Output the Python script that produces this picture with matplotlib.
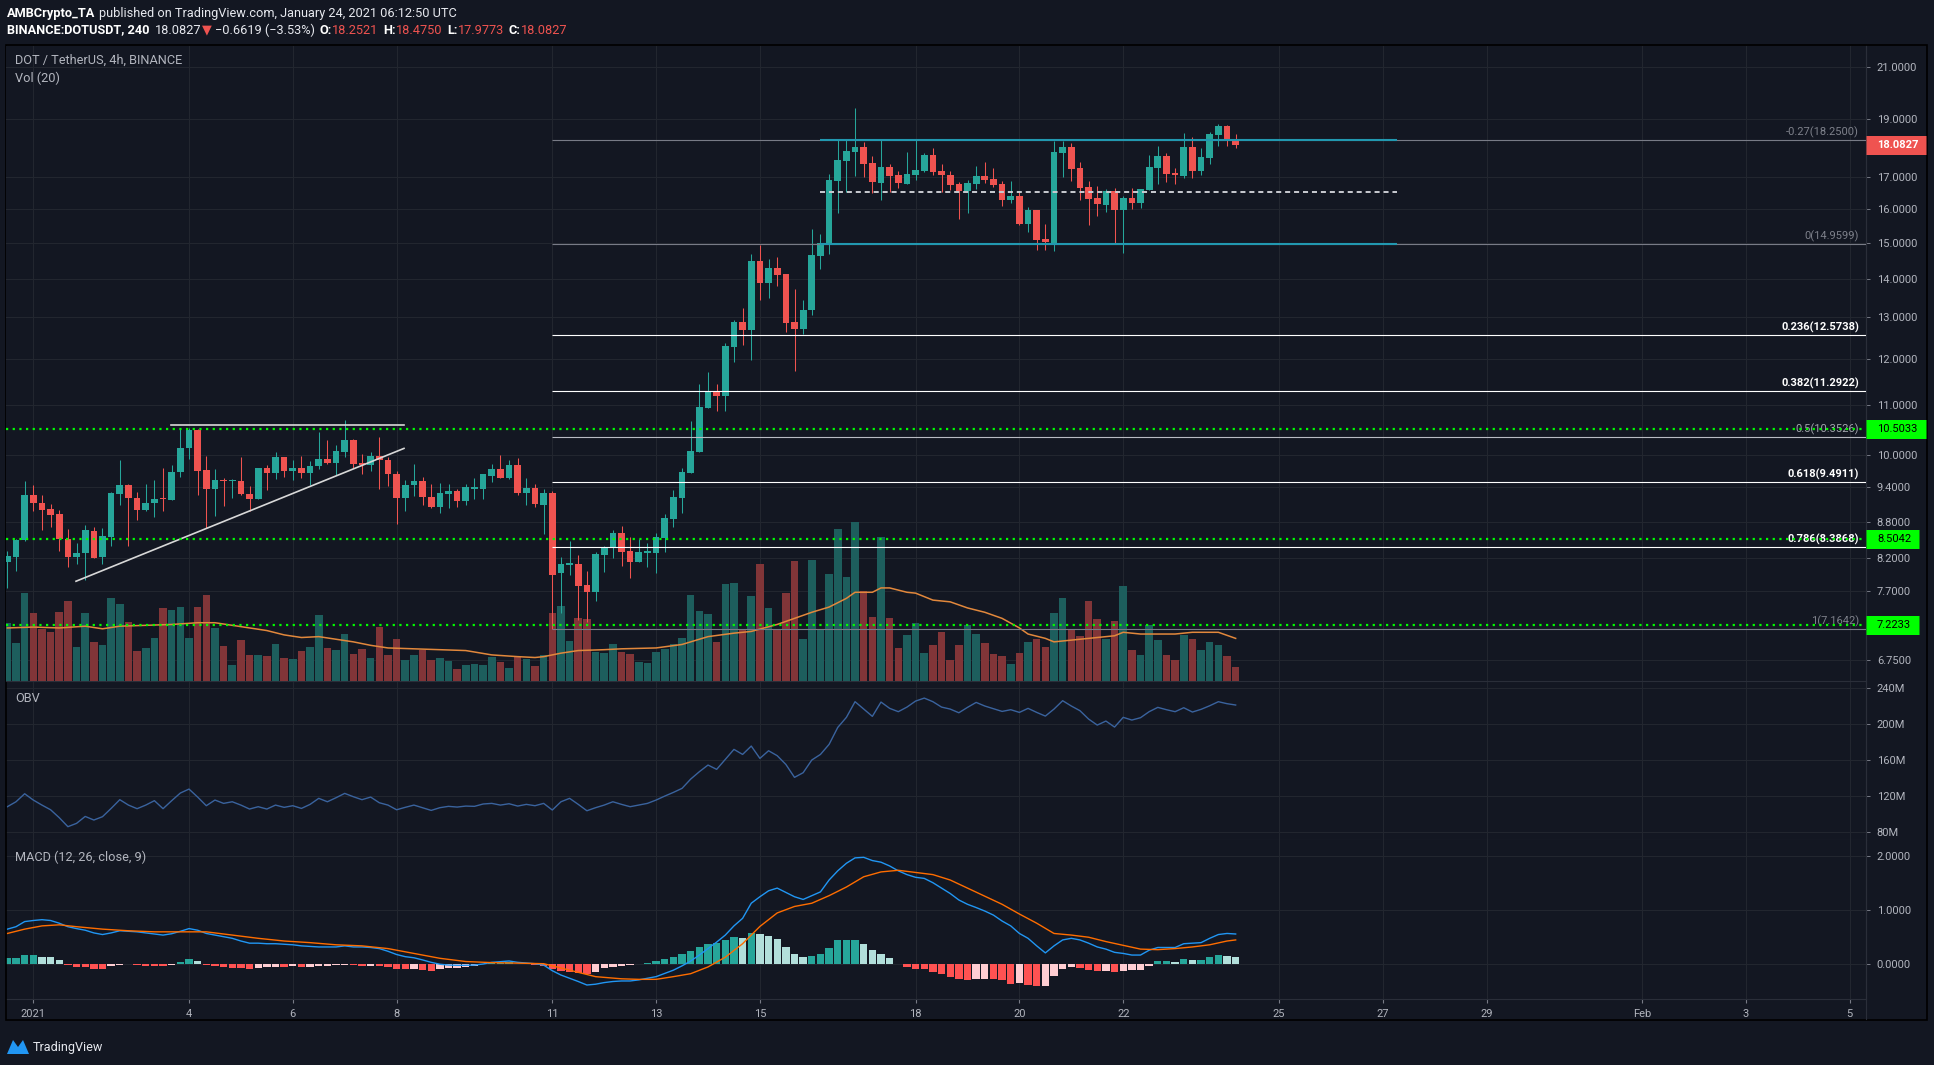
import matplotlib
matplotlib.use("Agg")
import matplotlib.pyplot as plt
import matplotlib.dates as mdates
import matplotlib.transforms as mtransforms
from matplotlib.ticker import FixedLocator, FixedFormatter, NullLocator
from matplotlib.lines import Line2D
from matplotlib.patches import Rectangle, Polygon
import numpy as np
import pandas as pd

plt.rcParams['font.family'] = ['Roboto', 'DejaVu Sans']

# DOT/USDT 4h candles, first bar 2020-12-31 12:00 UTC
start = '2020-12-31 12:00'
opens = [8.15, 8.23, 8.49, 9.26, 9.11, 9.01, 8.92, 8.51, 8.23, 8.28,
         8.64, 8.23, 8.55, 9.28, 9.44, 9.20, 9.00, 9.11, 9.19, 9.17,
         9.68, 10.13, 10.48, 9.71, 9.37, 9.53, 9.50, 9.51, 9.28, 9.18,
         9.75, 9.66, 9.96, 9.70, 9.75, 9.66, 9.78, 9.92, 9.85, 10.06,
         10.29, 9.84, 9.81, 9.98, 9.90, 9.64, 9.21, 9.44, 9.51, 9.22,
         9.05, 9.28, 9.33, 9.15, 9.37, 9.37, 9.60, 9.73, 9.56, 9.80,
         9.29, 9.38, 9.08, 9.29, 7.97, 8.10, 8.11, 7.79, 7.69, 8.25,
         8.38, 8.61, 8.32, 8.15, 8.29, 8.29, 8.53, 8.84, 9.21, 9.65,
         10.05, 10.94, 11.27, 11.18, 12.29, 12.89, 12.69, 14.48, 13.89, 14.29,
         14.12, 12.89, 12.72, 13.19, 14.62, 14.96, 16.88, 17.53, 17.84, 18.01,
         17.46, 16.81, 17.33, 17.07, 16.78, 17.07, 17.20, 17.73, 17.20, 17.07,
         16.78, 16.56, 16.78, 17.04, 16.94, 16.78, 16.27, 16.40, 15.54, 15.96,
         15.10, 14.99, 17.80, 18.01, 17.30, 16.68, 16.33, 16.12, 16.56, 15.96,
         16.33, 16.18, 16.59, 17.30, 17.70, 17.14, 17.04, 18.01, 17.20, 17.63,
         18.42, 18.75, 18.2521]
highs = [8.32, 8.51, 9.51, 9.44, 9.26, 9.10, 8.99, 8.67, 8.45, 8.74,
         8.70, 8.69, 9.31, 9.90, 9.46, 9.31, 9.46, 9.53, 9.75, 9.81,
         10.50, 10.53, 10.50, 9.98, 9.73, 9.56, 9.55, 9.96, 9.42, 9.75,
         9.81, 10.05, 9.96, 9.90, 9.98, 9.88, 10.45, 10.29, 10.19, 10.69,
         10.31, 10.01, 10.05, 10.35, 9.96, 9.70, 9.53, 9.82, 9.58, 9.45,
         9.47, 9.45, 9.36, 9.45, 9.56, 9.64, 9.82, 9.99, 9.90, 9.94,
         9.56, 9.45, 9.36, 9.33, 8.22, 8.48, 8.25, 8.00, 8.30, 8.40,
         8.66, 8.72, 8.54, 8.51, 8.45, 8.61, 8.93, 9.35, 9.75, 10.67,
         11.45, 11.71, 11.45, 12.38, 12.94, 13.24, 14.68, 14.93, 14.54, 14.59,
         14.12, 13.73, 13.45, 15.40, 15.25, 17.11, 18.25, 18.25, 19.40, 18.18,
         17.70, 18.25, 17.43, 17.20, 17.84, 18.25, 17.80, 17.97, 17.43, 17.20,
         16.84, 16.91, 17.36, 17.50, 17.30, 16.88, 16.88, 16.56, 16.06, 15.96,
         15.54, 18.22, 18.22, 18.15, 17.50, 16.88, 16.71, 16.62, 16.65, 16.40,
         16.65, 16.62, 17.73, 18.04, 17.80, 17.30, 18.50, 18.35, 17.97, 18.53,
         18.82, 18.79, 18.475]
lows = [7.75, 8.00, 8.47, 8.98, 8.66, 8.71, 8.31, 8.06, 8.12, 7.87,
        8.21, 8.12, 8.40, 9.09, 8.40, 8.83, 8.98, 8.88, 8.98, 9.17,
        9.59, 9.92, 9.26, 8.69, 8.90, 9.07, 9.20, 9.26, 8.98, 9.18,
        9.34, 9.55, 9.59, 9.52, 9.57, 9.44, 9.72, 9.83, 9.62, 9.96,
        9.75, 9.64, 9.70, 9.37, 9.41, 8.76, 8.98, 9.24, 9.08, 9.03,
        8.95, 9.03, 9.05, 9.08, 9.19, 9.19, 9.49, 9.56, 9.54, 9.26,
        9.08, 9.05, 8.59, 7.16, 7.39, 7.94, 7.29, 7.26, 7.56, 7.99,
        8.21, 8.08, 7.90, 8.15, 8.07, 7.97, 8.30, 8.71, 8.95, 9.65,
        10.05, 10.93, 10.87, 10.87, 11.94, 12.33, 11.98, 13.44, 13.49, 13.81,
        12.64, 11.73, 12.60, 13.05, 14.26, 14.67, 15.87, 16.52, 17.04, 17.00,
        16.49, 16.27, 16.52, 16.65, 16.78, 16.91, 17.16, 17.07, 16.52, 16.59,
        15.69, 15.87, 16.62, 16.81, 16.68, 16.09, 16.18, 15.51, 15.31, 14.79,
        14.79, 14.76, 17.00, 16.88, 16.27, 15.51, 15.78, 15.90, 14.96, 14.70,
        15.99, 16.02, 16.59, 16.78, 16.84, 16.78, 16.97, 16.97, 17.07, 17.43,
        18.04, 18.04, 17.9773]
closes = [8.24, 8.50, 9.26, 9.11, 9.00, 8.91, 8.51, 8.23, 8.29, 8.66,
          8.21, 8.56, 9.29, 9.44, 9.20, 9.00, 9.12, 9.19, 9.18, 9.68,
          10.13, 10.48, 9.70, 9.37, 9.53, 9.50, 9.51, 9.28, 9.18, 9.75,
          9.66, 9.96, 9.70, 9.75, 9.66, 9.79, 9.92, 9.85, 10.07, 10.29,
          9.83, 9.81, 9.98, 9.89, 9.64, 9.21, 9.44, 9.51, 9.22, 9.05,
          9.29, 9.33, 9.15, 9.40, 9.39, 9.64, 9.73, 9.56, 9.80, 9.29,
          9.38, 9.10, 9.29, 7.94, 8.11, 8.11, 7.78, 7.69, 8.27, 8.38,
          8.61, 8.30, 8.15, 8.30, 8.30, 8.54, 8.86, 9.22, 9.67, 10.07,
          10.95, 11.27, 11.19, 12.31, 12.89, 12.69, 14.48, 13.89, 14.29, 14.10,
          12.86, 12.72, 13.19, 14.65, 14.99, 16.91, 17.57, 17.87, 18.01, 17.43,
          16.84, 17.33, 17.04, 16.81, 17.11, 17.23, 17.73, 17.17, 17.07, 16.74,
          16.56, 16.81, 17.04, 16.91, 16.74, 16.27, 16.40, 15.54, 15.96, 15.08,
          15.02, 17.83, 18.01, 17.26, 16.65, 16.30, 16.15, 16.56, 15.96, 16.33,
          16.18, 16.62, 17.33, 17.70, 17.11, 17.07, 18.01, 17.20, 17.67, 18.46,
          18.75, 18.28, 18.0827]
# volume in millions
volume = [6.7, 4.4, 10.1, 7.8, 6.0, 5.6, 7.9, 9.2, 3.9, 7.8,
          4.5, 4.1, 9.5, 8.9, 6.8, 3.5, 3.8, 4.9, 8.4, 8.2,
          8.5, 4.9, 8.5, 9.9, 6.1, 4.0, 1.8, 4.7, 3.0, 3.0,
          2.9, 4.3, 2.6, 2.5, 3.5, 3.9, 7.6, 3.8, 3.6, 5.4,
          3.1, 3.7, 2.6, 6.2, 3.0, 4.8, 2.4, 3.0, 3.6, 2.4,
          2.6, 2.3, 1.4, 1.8, 2.0, 1.8, 2.8, 2.2, 1.5, 2.8,
          2.5, 1.7, 3.0, 7.8, 8.6, 4.6, 7.2, 7.1, 3.3, 3.2,
          4.3, 3.3, 3.1, 2.2, 2.1, 3.3, 3.7, 4.3, 4.9, 9.9,
          8.1, 7.7, 4.5, 11.2, 11.3, 6.0, 9.8, 13.5, 8.4, 6.0,
          10.1, 13.8, 4.8, 13.9, 6.0, 12.3, 17.5, 12.0, 18.3, 10.4,
          7.4, 16.6, 7.2, 3.8, 5.3, 6.7, 3.2, 4.1, 5.6, 2.4,
          4.1, 6.4, 5.4, 4.4, 3.1, 2.9, 2.0, 3.2, 4.5, 4.8,
          3.9, 7.8, 9.5, 5.9, 5.2, 9.2, 7.1, 4.8, 6.9, 10.9,
          3.6, 3.0, 6.4, 4.7, 3.0, 2.4, 5.3, 4.8, 3.6, 4.5,
          4.1, 2.9, 1.6]
vol_ma_idx = [0, 3, 6, 9, 11, 13, 16, 19, 22, 24, 26, 28, 30, 32, 34, 36, 38, 40, 42, 44,
              47, 50, 53, 56, 59, 61, 62, 64, 66, 69, 71,
              75, 78, 81, 84, 86, 89, 91, 93, 95, 97, 98, 100, 101, 102, 104, 105, 107, 109, 111,
              113, 115, 117, 118, 120, 121, 124, 127, 128, 129, 131, 135, 137, 140, 142]
vol_ma = [6.1, 6.2, 6.1, 6.3, 6.0, 6.3, 6.4, 6.5, 6.7, 6.7, 6.4, 6.1, 5.8, 5.3, 5.0, 5.1, 4.8, 4.5, 4.1, 3.8,
          3.7, 3.6, 3.5, 3.0, 2.8, 2.7, 2.8, 3.2, 3.5, 3.6, 3.7,
          3.8, 4.2, 5.1, 5.5, 5.7, 6.5, 7.2, 7.9, 8.5, 9.5, 10.2, 10.2, 10.7, 10.7, 10.2, 10.1, 9.3, 9.1, 8.4,
          7.9, 7.2, 6.1, 5.4, 4.9, 4.5, 4.8, 5.1, 5.2, 5.6, 5.4, 5.4, 5.6, 5.6, 4.9]
obv = [108.1, 113.6, 122.5, 115.5, 109.9, 104.7, 95.9, 85.9, 89.6, 97.3,
       93.3, 97.0, 106.2, 115.9, 109.9, 105.9, 109.9, 114.8, 105.9, 114.8,
       123.3, 127.7, 118.8, 109.2, 115.5, 111.8, 113.6, 109.9, 105.5, 108.1,
       105.5, 109.9, 107.4, 109.2, 106.2, 110.7, 117.4, 113.6, 118.1, 122.9,
       119.2, 115.9, 118.8, 112.5, 109.9, 104.7, 107.4, 109.9, 107.0, 104.0,
       107.0, 108.5, 107.7, 108.8, 108.5, 111.1, 111.8, 109.9, 111.4, 108.8,
       110.7, 109.2, 111.8, 104.4, 113.6, 117.4, 110.7, 103.6, 107.0, 109.9,
       113.6, 110.7, 108.1, 109.9, 111.8, 115.5, 119.9, 124.0, 128.5, 138.8,
       147.0, 154.4, 149.6, 160.7, 171.8, 166.2, 175.5, 161.8, 170.3, 164.8,
       155.1, 140.7, 145.9, 160.0, 166.2, 177.4, 196.2, 207.4, 224.8, 216.6,
       208.5, 224.4, 217.4, 213.7, 218.8, 225.5, 228.8, 224.8, 218.8, 216.6,
       212.5, 218.5, 224.0, 220.0, 217.0, 214.0, 215.9, 212.9, 217.4, 212.9,
       208.8, 216.6, 225.9, 220.0, 214.8, 205.5, 198.8, 203.3, 196.6, 207.4,
       204.4, 207.0, 213.7, 218.5, 215.9, 213.7, 218.1, 213.3, 216.3, 220.3,
       224.8, 222.6, 221.1]
macd = [0.64, 0.685, 0.78, 0.80, 0.815, 0.80, 0.75, 0.685, 0.65, 0.62,
        0.57, 0.54, 0.57, 0.61, 0.60, 0.59, 0.57, 0.55, 0.53, 0.555,
        0.60, 0.65, 0.62, 0.56, 0.53, 0.50, 0.47, 0.42, 0.38, 0.38,
        0.37, 0.37, 0.36, 0.35, 0.33, 0.32, 0.31, 0.31, 0.31, 0.33,
        0.31, 0.31, 0.30, 0.28, 0.23, 0.17, 0.13, 0.11, 0.07, 0.025,
        -0.01, -0.025, -0.03, -0.03, -0.025, -0.006, 0.025, 0.037, 0.05, 0.025,
        0.012, 0.0, -0.025, -0.13, -0.21, -0.27, -0.33, -0.395, -0.38, -0.35,
        -0.33, -0.32, -0.32, -0.30, -0.27, -0.24, -0.18, -0.12, -0.04, 0.05,
        0.16, 0.28, 0.40, 0.53, 0.70, 0.84, 1.12, 1.24, 1.35, 1.40,
        1.32, 1.24, 1.19, 1.26, 1.33, 1.55, 1.72, 1.86, 1.96, 1.97,
        1.91, 1.88, 1.81, 1.72, 1.65, 1.60, 1.58, 1.50, 1.40, 1.30,
        1.18, 1.10, 1.04, 0.975, 0.90, 0.79, 0.70, 0.56, 0.47, 0.33,
        0.20, 0.33, 0.44, 0.47, 0.44, 0.38, 0.31, 0.27, 0.21, 0.19,
        0.16, 0.16, 0.25, 0.30, 0.30, 0.30, 0.37, 0.38, 0.39, 0.47,
        0.54, 0.56, 0.55]
macd_hist = [0.10, 0.11, 0.16, 0.165, 0.13, 0.12, 0.07, -0.025, -0.055, -0.056,
             -0.09, -0.092, -0.04, -0.025, -0.01, -0.025, -0.035, -0.04, -0.042, -0.025,
             0.04, 0.085, 0.05, -0.025, -0.045, -0.055, -0.075, -0.085, -0.10, -0.085,
             -0.07, -0.055, -0.058, -0.052, -0.056, -0.054, -0.05, -0.045, -0.03, -0.02,
             -0.03, -0.045, -0.044, -0.05, -0.055, -0.10, -0.105, -0.104, -0.11, -0.13,
             -0.10, -0.085, -0.084, -0.07, -0.05, -0.01, 0.012, 0.02, 0.025, -0.01,
             -0.012, -0.025, -0.04, -0.105, -0.13, -0.15, -0.18, -0.19, -0.15, -0.085,
             -0.055, -0.045, -0.025, -0.012, 0.006, 0.05, 0.085, 0.12, 0.18, 0.235,
             0.31, 0.36, 0.38, 0.44, 0.49, 0.475, 0.57, 0.55, 0.51, 0.46,
             0.31, 0.18, 0.12, 0.14, 0.18, 0.29, 0.43, 0.44, 0.445, 0.36,
             0.25, 0.18, 0.105, -0.012, -0.055, -0.09, -0.10, -0.15, -0.19, -0.25,
             -0.28, -0.30, -0.28, -0.275, -0.28, -0.31, -0.37, -0.36, -0.40, -0.42,
             -0.41, -0.23, -0.10, -0.055, -0.075, -0.12, -0.135, -0.13, -0.15, -0.135,
             -0.12, -0.11, -0.045, 0.05, 0.052, 0.03, 0.085, 0.07, 0.075, 0.12,
             0.16, 0.14, 0.12]
signal_k = [1, 3, 5, 7, 9, 12, 15, 18, 21, 24, 27, 30, 33, 36, 39, 42, 45, 48, 51, 54,
            57, 60, 63, 66, 69, 72, 74, 76, 78, 80, 82, 84, 86, 88, 90, 92, 94, 96, 98, 100,
            102, 104, 106, 108, 110, 112, 114, 116, 118, 120, 122, 124, 126, 128, 130, 132, 134, 136, 138, 140,
            142, 143]
signal = [0.56, 0.64, 0.70, 0.72, 0.685, 0.64, 0.61, 0.59, 0.59, 0.59, 0.53, 0.47, 0.42, 0.39, 0.35, 0.33, 0.28, 0.19, 0.10, 0.04,
          0.02, 0.01, 0.0, -0.12, -0.24, -0.28, -0.29, -0.29, -0.24, -0.185, -0.06, 0.12, 0.37, 0.69, 0.94, 1.06, 1.12, 1.26, 1.42, 1.61,
          1.70, 1.73, 1.69, 1.65, 1.55, 1.40, 1.25, 1.10, 0.92, 0.75, 0.56, 0.53, 0.49, 0.41, 0.34, 0.27, 0.26, 0.28, 0.31, 0.35,
          0.42, 0.44]

price_ticks = [21, 19, 17, 16, 15, 14, 13, 12, 11, 10, 9.4, 8.8, 8.2, 7.7, 6.75]
obv_ticks = [80, 120, 160, 200, 240]
macd_ticks = [0, 1, 2]
date_ticks = ['2021-01-01', '2021-01-04', '2021-01-06', '2021-01-08', '2021-01-11', '2021-01-13',
              '2021-01-15', '2021-01-18', '2021-01-20', '2021-01-22', '2021-01-25', '2021-01-27',
              '2021-01-29', '2021-02-01', '2021-02-03', '2021-02-05']
date_labels = ['2021', '4', '6', '8', '11', '13', '15', '18', '20', '22', '25', '27', '29', 'Feb', '3', '5']

fib_labels = ['-0.27(18.2500)', '0(14.9599)', '0.236(12.5738)', '0.382(11.2922)',
              '0.5(10.3526)', '0.618(9.4911)', '0.786(8.3868)', '1(7.1642)']
fib_prices = [18.25, 14.9599, 12.5738, 11.2922, 10.3526, 9.4911, 8.3868, 7.1642]
fib_start = '2021-01-11'
green_levels = [10.5033, 8.5042, 7.2233]
range_top, range_mid, range_bot = 18.25, 16.53, 14.96
range_start, range_end = '2021-01-16 04:00', '2021-01-27 06:30'
tri_top = 10.58
tri_top_x = ['2021-01-03 15:40', '2021-01-08 03:25']
tri_low = [7.85, 10.12]
tri_low_x = ['2021-01-01 19:45', '2021-01-08 03:25']

# ---------------- style
BG = '#131722'
GRID = '#22262f'
SEP = '#2a2e39'
TXT = '#b2b5be'
UP, DN = '#26a69a', '#ef5350'
VUP, VDN = '#1d5e5d', '#813538'
W, H = 1934, 1065


def rect(l, t, r, b):
    return [l / W, 1 - b / H, (r - l) / W, (b - t) / H]


def num(s):
    return mdates.date2num(pd.Timestamp(s).to_pydatetime())


x = mdates.date2num(pd.date_range(start, periods=len(opens), freq='4h').to_pydatetime())
o, h, l, c = map(np.array, (opens, highs, lows, closes))
t0 = num('2021-01-01')
xlim = (t0 - 0.526, t0 + 35.312)

fig = plt.figure(figsize=(W / 100, H / 100), dpi=100, facecolor=BG)
renderer = fig.canvas.get_renderer()

ax_p = fig.add_axes(rect(6, 46, 1866, 681), facecolor=BG, zorder=1)
ax_v = fig.add_axes(rect(6, 46, 1866, 681), sharex=ax_p, facecolor='none', zorder=2)
ax_p.set_yscale('log')
ax_c = fig.add_axes(rect(6, 46, 1866, 681), sharex=ax_p, sharey=ax_p, facecolor='none', zorder=3)
ax_o = fig.add_axes(rect(6, 681, 1866, 840), sharex=ax_p, facecolor=BG)
ax_m = fig.add_axes(rect(6, 840, 1866, 999), sharex=ax_p, facecolor=BG)

for ax in (ax_p, ax_o, ax_m):
    ax.set_axisbelow(True)
    ax.grid(True, color=GRID, lw=0.8)
    for s in ax.spines.values():
        s.set_color(SEP)
        s.set_linewidth(0.8)
    ax.spines['left'].set_visible(False)
    ax.spines['top'].set_visible(False)
    ax.yaxis.tick_right()
    ax.tick_params(axis='y', which='both', labelsize=8, labelcolor=TXT, color='#787b86',
                   length=3, width=0.7, pad=4.8)
    ax.tick_params(axis='x', labelbottom=False, length=0)
ax_v.axis('off')
ax_c.axis('off')

# price scale
ax_p.yaxis.set_major_locator(FixedLocator(price_ticks))
ax_p.yaxis.set_major_formatter(FixedFormatter(['%.4f' % t for t in price_ticks]))
ax_p.yaxis.set_minor_locator(NullLocator())
ax_p.set_ylim(6.487, 21.843)

ax_o.set_yticks(obv_ticks)
ax_o.set_yticklabels(['%dM' % t for t in obv_ticks])
ax_o.set_ylim(71.1, 247.8)

ax_m.set_yticks(macd_ticks)
ax_m.set_yticklabels(['%.4f' % t for t in macd_ticks])
ax_m.set_ylim(-0.654, 2.291)

ax_m.set_xticks([num(d) for d in date_ticks])
ax_m.set_xticklabels(date_labels)
ax_m.tick_params(axis='x', labelbottom=True, length=3, color='#787b86', labelsize=8,
                 labelcolor=TXT, pad=4.5)
ax_p.set_xlim(*xlim)

# volume
ax_v.bar(x, volume, width=0.145, color=np.where(c >= o, VUP, VDN), lw=0)
ax_v.plot(x[vol_ma_idx], vol_ma, color='#e2883c', lw=1.1)
ax_v.set_ylim(0, 73.0)

# candles
col = np.where(c >= o, UP, DN)
ax_c.vlines(x, l, h, colors=col, lw=0.75, zorder=2)
ax_c.bar(x, np.maximum(np.abs(c - o), c * 0.003), bottom=np.minimum(o, c), width=0.129,
         color=col, lw=0, zorder=3)

# drawings
for lv in green_levels:
    ax_c.axhline(lv, color='#00ff00', lw=1.6, linestyle=(0, (1, 2)), zorder=6)

fib_cols = ['#787b86', '#787b86', '#ffffff', '#ffffff', '#b8bbc3', '#ffffff', '#ffffff', '#787b86']
fib_txt = ['#7e818b', '#7e818b', '#ffffff', '#ffffff', '#a3a6ae', '#ffffff', '#ffffff', '#7e818b']
fib_wt = ['normal', 'normal', 'bold', 'bold', 'normal', 'bold', 'bold', 'normal']
blend = mtransforms.blended_transform_factory(ax_c.transAxes, ax_c.transData)
lbl_tr = mtransforms.offset_copy(blend, fig=fig, y=2, units='dots')
for lab, pr, lc, tc, wt in zip(fib_labels, fib_prices, fib_cols, fib_txt, fib_wt):
    ax_c.hlines(pr, num(fib_start), xlim[1], color=lc, lw=0.8, zorder=4)
    ax_c.text((1859 - 6) / 1860, pr, lab, transform=lbl_tr, ha='right', va='bottom',
              fontsize=8, color=tc, fontweight=wt, zorder=5)

teal = '#2298b0'
ax_c.hlines([range_top, range_bot], num(range_start), num(range_end), color=teal, lw=1.5, zorder=5)
ax_c.hlines(range_mid, num(range_start), num(range_end), color='#c9cbd1', lw=1.4,
            linestyle=(0, (2.6, 2.0)), zorder=5)

ax_c.plot([num(s) for s in tri_top_x], [tri_top, tri_top], color='#d8d8d8', lw=1.2, zorder=5)
ax_c.plot([num(s) for s in tri_low_x], tri_low, color='#d8d8d8', lw=1.2, zorder=5)


def price_tag(y, txt, fc, tc, x_end, wt='normal'):
    ax_c.add_line(Line2D([1.0, (x_end - 6) / 1860], [y, y], transform=blend, color=fc,
                         lw=19 * 0.72, solid_capstyle='butt', clip_on=False, zorder=7))
    ax_c.text((1877 - 6) / 1860, y, txt, transform=blend, ha='left', va='center',
              fontsize=8, color=tc, fontweight=wt, clip_on=False, zorder=8)


price_tag(closes[-1], '%.4f' % closes[-1], '#ef5350', '#ffffff', 1926, 'bold')
for lv, xe in zip(green_levels, [1926, 1919, 1919]):
    price_tag(lv, '%.4f' % lv, '#00ff00', '#000000', xe)

# OBV
ax_o.plot(x, obv, color='#3a639e', lw=1.0)

# MACD
hc = []
for i, hv in enumerate(macd_hist):
    pv = macd_hist[i - 1] if i else hv
    if hv >= 0:
        hc.append('#26a69a' if hv >= pv else '#b2dfdb')
    else:
        hc.append('#ff5252' if hv < pv else '#ffcdd2')
ax_m.bar(x, macd_hist, width=0.85 / 6, color=hc, lw=0)
ax_m.plot(x, macd, color='#2196f3', lw=1.0)
ax_m.plot(x[np.array(signal_k) - 1], signal, color='#ff6d00', lw=1.0)


def fit_size(s, target_px, wt='normal'):
    # font size (pt) at which text s is about target_px wide
    t = fig.text(0, 0, s, fontsize=10, fontweight=wt)
    w = t.get_window_extent(renderer).width
    t.remove()
    return 10 * target_px / w


# pane titles
fs_t = fit_size('MACD (12, 26, close, 9)', 131)
fig.text(15 / W, 1 - 60 / H, 'DOT / TetherUS, 4h, BINANCE', color=TXT, fontsize=fs_t, va='center')
fig.text(15 / W, 1 - 78 / H, 'Vol (20)', color=TXT, fontsize=fs_t, va='center')
fig.text(15 / W, 1 - 698 / H, 'OBV', color=TXT, fontsize=fs_t, va='center')
fig.text(15 / W, 1 - 857 / H, 'MACD (12, 26, close, 9)', color=TXT, fontsize=fs_t, va='center')

# frame
fig.add_artist(Rectangle((5.5 / W, 1 - 1019.5 / H), 1921 / W, 975 / H, transform=fig.transFigure,
                         fill=False, ec='#000000', lw=1.2))
fig.add_artist(Line2D([1866 / W, 1866 / W], [1 - 46 / H, 1 - 1019 / H], transform=fig.transFigure,
                      color=SEP, lw=0.8))


# header
def write_parts(xp, yp, parts, size):
    for s, colr, wt, gap in parts:
        t = fig.text(xp / W, 1 - yp / H, s, color=colr, fontsize=size, fontweight=wt,
                     ha='left', va='center')
        xp += t.get_window_extent(renderer).width + gap


WH, RD = '#ffffff', '#ef5350'
line1 = 'AMBCrypto_TA published on TradingView.com, January 24, 2021 06:12:50 UTC'
fs_h = fit_size(line1, 445)
write_parts(7, 13, [('AMBCrypto_TA', WH, 'bold', 4),
                    ('published on TradingView.com, January 24, 2021 06:12:50 UTC', '#e6e8ee', 'normal', 0)], fs_h)
write_parts(7, 30, [('BINANCE:DOTUSDT, 240', WH, 'bold', 5), ('18.0827', '#e6e8ee', 'normal', 1),
                    ('\u25bc', RD, 'normal', 3), ('\u22120.6619 (\u22123.53%)', '#e6e8ee', 'normal', 5),
                    ('O:', WH, 'bold', 0), ('18.2521', RD, 'normal', 5),
                    ('H:', WH, 'bold', 0), ('18.4750', RD, 'normal', 5),
                    ('L:', WH, 'bold', 0), ('17.9773', RD, 'normal', 5),
                    ('C:', WH, 'bold', 0), ('18.0827', RD, 'normal', 0)], fs_h)

# footer logo
fig.add_artist(Polygon([[7 / W, 1 - 1054 / H], [13 / W, 1 - 1040 / H], [18 / W, 1 - 1047 / H],
                        [23 / W, 1 - 1040 / H], [29 / W, 1 - 1054 / H]],
                       closed=True, transform=fig.transFigure, fc='#2196f3', ec='none'))
fig.text(33 / W, 1 - 1047 / H, 'TradingView', color='#e6e8ee', fontsize=fit_size('TradingView', 70),
         va='center')

fig.savefig('out.png', dpi=100, facecolor=BG)
